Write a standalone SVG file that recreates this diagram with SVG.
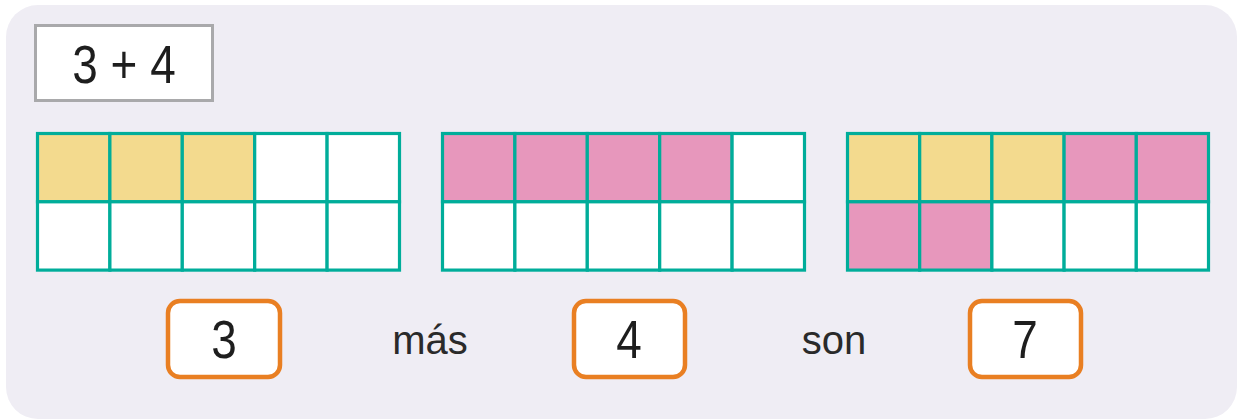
<svg xmlns="http://www.w3.org/2000/svg" width="1244" height="420" viewBox="0 0 1244 420">
<style>
.cell{stroke:#00ad9a;stroke-width:3.2}
.w{fill:#ffffff}
.y{fill:#f3da8e}
.p{fill:#e797bc}
.ob{fill:#ffffff;stroke:#e97f22;stroke-width:4.5}
.num{font-family:"Liberation Sans",Arial,sans-serif;font-size:54px;fill:#1e1e1e;text-anchor:middle}
.word{font-family:"Liberation Sans",Arial,sans-serif;font-size:40px;fill:#2a2a2a;text-anchor:middle}
</style>
<rect x="0" y="0" width="1244" height="420" fill="#ffffff"/>
<rect id="panel" x="6" y="5" width="1231" height="414" rx="32" fill="#efedf4"/>
<g id="title">
<rect x="35.5" y="25.5" width="177" height="75" fill="#ffffff" stroke="#a9a9ab" stroke-width="3"/>
<text class="num" transform="translate(124,83) scale(0.85,1)" x="0" y="0">3 + 4</text>
</g>
<g id="grid1">
<rect class="cell y" x="37.5" y="133.5" width="72.4" height="68.3"/>
<rect class="cell y" x="109.9" y="133.5" width="72.4" height="68.3"/>
<rect class="cell y" x="182.3" y="133.5" width="72.4" height="68.3"/>
<rect class="cell w" x="254.7" y="133.5" width="72.4" height="68.3"/>
<rect class="cell w" x="327.1" y="133.5" width="72.4" height="68.3"/>
<rect class="cell w" x="37.5" y="201.8" width="72.4" height="68.3"/>
<rect class="cell w" x="109.9" y="201.8" width="72.4" height="68.3"/>
<rect class="cell w" x="182.3" y="201.8" width="72.4" height="68.3"/>
<rect class="cell w" x="254.7" y="201.8" width="72.4" height="68.3"/>
<rect class="cell w" x="327.1" y="201.8" width="72.4" height="68.3"/>
</g>
<g id="grid2">
<rect class="cell p" x="442.5" y="133.5" width="72.4" height="68.3"/>
<rect class="cell p" x="514.9" y="133.5" width="72.4" height="68.3"/>
<rect class="cell p" x="587.3" y="133.5" width="72.4" height="68.3"/>
<rect class="cell p" x="659.7" y="133.5" width="72.4" height="68.3"/>
<rect class="cell w" x="732.1" y="133.5" width="72.4" height="68.3"/>
<rect class="cell w" x="442.5" y="201.8" width="72.4" height="68.3"/>
<rect class="cell w" x="514.9" y="201.8" width="72.4" height="68.3"/>
<rect class="cell w" x="587.3" y="201.8" width="72.4" height="68.3"/>
<rect class="cell w" x="659.7" y="201.8" width="72.4" height="68.3"/>
<rect class="cell w" x="732.1" y="201.8" width="72.4" height="68.3"/>
</g>
<g id="grid3">
<rect class="cell y" x="847.5" y="133.5" width="72.2" height="68.3"/>
<rect class="cell y" x="919.7" y="133.5" width="72.2" height="68.3"/>
<rect class="cell y" x="991.9" y="133.5" width="72.2" height="68.3"/>
<rect class="cell p" x="1064.1" y="133.5" width="72.2" height="68.3"/>
<rect class="cell p" x="1136.3" y="133.5" width="72.2" height="68.3"/>
<rect class="cell p" x="847.5" y="201.8" width="72.2" height="68.3"/>
<rect class="cell p" x="919.7" y="201.8" width="72.2" height="68.3"/>
<rect class="cell w" x="991.9" y="201.8" width="72.2" height="68.3"/>
<rect class="cell w" x="1064.1" y="201.8" width="72.2" height="68.3"/>
<rect class="cell w" x="1136.3" y="201.8" width="72.2" height="68.3"/>
</g>
<g id="answer1">
<rect class="ob" x="168" y="301" width="112" height="76" rx="12"/>
<text class="num" transform="translate(224,358) scale(0.85,1)" x="0" y="0">3</text>
</g>
<text id="mas" class="word" x="430" y="354">más</text>
<g id="answer2">
<rect class="ob" x="574" y="301" width="111" height="76" rx="12"/>
<text class="num" transform="translate(629,358) scale(0.85,1)" x="0" y="0">4</text>
</g>
<text id="son" class="word" x="834" y="354">son</text>
<g id="answer3">
<rect class="ob" x="970" y="301" width="111" height="76" rx="12"/>
<text class="num" transform="translate(1025,358) scale(0.85,1)" x="0" y="0">7</text>
</g>
</svg>
